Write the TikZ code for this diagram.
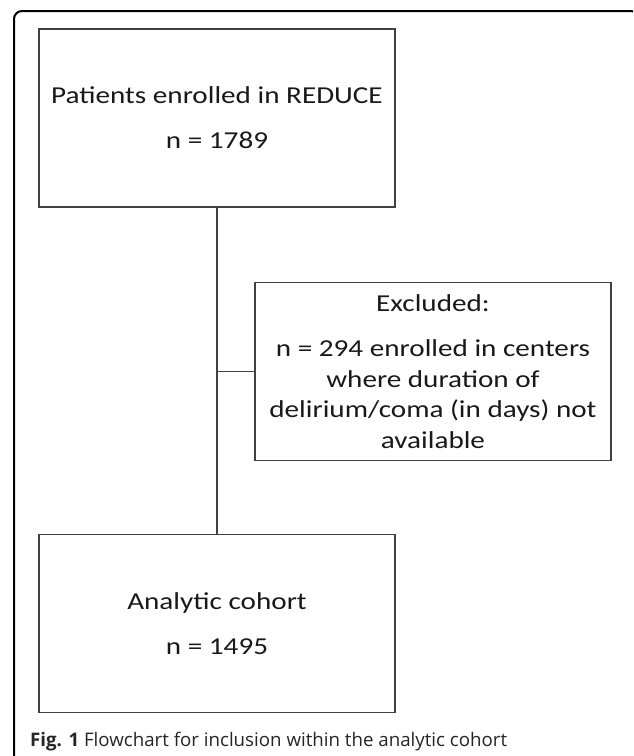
\documentclass[tikz,border=0pt]{standalone}
\usepackage{fontspec}
\setmainfont{Carlito}
\newfontfamily\boxfont[FakeStretch=1.2]{Carlito}
\newfontfamily\capfont{Open Sans}
\begin{document}
\begin{tikzpicture}[x=1pt,y=-1pt,
  flowbox/.style={draw=black!75, line width=1.3pt, minimum width=356pt, minimum height=178pt, inner sep=0pt, align=center, font=\boxfont\fontsize{24.3}{30.5}\selectfont, text=black!90},
  conn/.style={draw=black!75, line width=1.3pt}]
\clip (0,0) rectangle (633,756);
\fill[white] (0,0) rectangle (633,756);
\draw[line width=2pt, rounded corners=8pt] (14,780) -- (14,11) -- (639,11) -- (639,780);
\node[flowbox] (top) at (217,118) {Patients enrolled in REDUCE\\[14.5pt]n = 1789};
\node[flowbox] (excl) at (433,371.5) {Excluded:\\[14.5pt]n = 294 enrolled in centers\\where duration of\\delirium/coma (in days) not\\available};
\node[flowbox] (bot) at (217,623.5) {Analytic cohort\\[14.5pt]n = 1495};
\draw[conn] (top.south) -- (bot.north);
\draw[conn] (excl.west) -- (excl.west -| top.south);
\node[anchor=base west, inner sep=0pt, font=\capfont\fontsize{18.7}{22}\selectfont, text=black!85] (cap) at (30,746) {\textbf{Fig. 1} Flowchart for inclusion within the analytic cohort};
\end{tikzpicture}
\end{document}
